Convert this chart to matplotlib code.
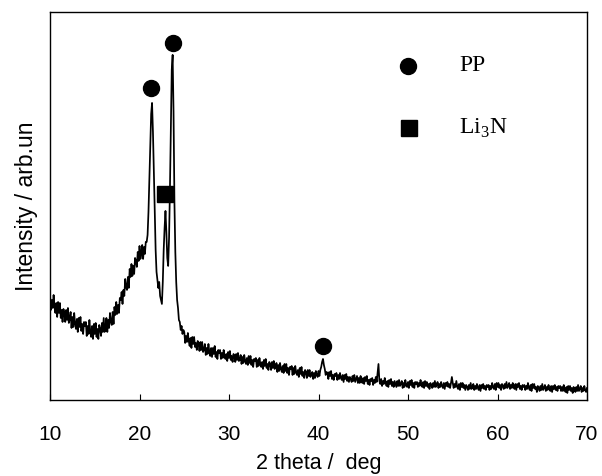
"""XRD pattern of the PP / Li3N sample, redrawn from the reference figure."""

import numpy as np
import matplotlib

matplotlib.use("Agg")
import matplotlib.pyplot as plt

plt.rcParams["font.family"] = ["Liberation Sans", "DejaVu Sans"]
plt.rcParams["mathtext.fontset"] = "custom"
plt.rcParams["mathtext.rm"] = "Liberation Serif"

# 2 theta from 10 to 70 deg in 0.1 deg steps, one row per degree
THETA_START, THETA_STOP, THETA_COUNT = 10.0, 70.0, 601

INTENSITY = [
    105, 90, 100, 92, 105, 93, 87, 97, 83, 98,      # 10
    87, 97, 82, 90, 78, 91, 87, 78, 90, 80,         # 11
    92, 77, 81, 88, 72, 83, 73, 87, 76, 71,         # 12
    81, 68, 82, 73, 83, 69, 76, 66, 78, 74,         # 13
    78, 64, 74, 66, 80, 68, 63, 74, 61, 76,         # 14
    66, 77, 63, 71, 61, 75, 71, 64, 77, 68,         # 15
    82, 68, 73, 82, 68, 80, 72, 87, 78, 75,         # 16
    88, 76, 93, 85, 98, 86, 95, 87, 102, 100,       # 17
    108, 96, 110, 104, 121, 113, 110, 123, 112, 131,  # 18
    123, 136, 124, 134, 126, 142, 139, 133, 148, 139,  # 19
    154, 141, 146, 155, 141, 153, 146, 158, 158, 165,  # 20
    188, 220, 252, 286, 297, 268, 228, 185, 150, 128,  # 21
    120, 112, 118, 104, 100, 96, 118, 150, 172, 189,   # 22
    168, 142, 134, 162, 212, 272, 330, 345, 288, 198,  # 23
    148, 118, 100, 92, 80, 78, 70, 74, 66, 70,      # 24
    68, 57, 64, 58, 67, 59, 54, 62, 52, 63,         # 25
    56, 63, 53, 57, 50, 59, 56, 49, 58, 50,         # 26
    58, 48, 50, 56, 45, 52, 46, 56, 48, 44,         # 27
    52, 43, 52, 46, 54, 43, 48, 41, 50, 47,         # 28
    50, 41, 47, 42, 50, 44, 41, 46, 39, 48,         # 29
    42, 49, 40, 44, 38, 46, 44, 38, 46, 40,         # 30
    47, 39, 40, 45, 36, 43, 37, 45, 39, 36,         # 31
    42, 35, 44, 37, 44, 35, 40, 33, 41, 39,         # 32
    42, 33, 40, 34, 42, 36, 33, 38, 31, 40,         # 33
    34, 41, 32, 36, 30, 38, 36, 30, 38, 32,         # 34
    39, 31, 33, 37, 28, 35, 29, 37, 31, 28,         # 35
    34, 27, 36, 29, 36, 27, 32, 25, 33, 31,         # 36
    34, 25, 32, 26, 34, 28, 25, 30, 23, 32,         # 37
    26, 33, 24, 28, 22, 30, 28, 22, 30, 24,         # 38
    30, 23, 26, 28, 21, 27, 22, 29, 25, 23,         # 39
    29, 24, 30, 33, 38, 41, 35, 31, 25, 28,         # 40
    27, 21, 28, 24, 29, 21, 25, 20, 26, 24,         # 41
    27, 20, 25, 21, 27, 22, 20, 25, 18, 25,         # 42
    21, 26, 19, 23, 18, 23, 21, 18, 24, 19,         # 43
    25, 18, 21, 24, 17, 22, 17, 24, 19, 17,         # 44
    22, 16, 23, 19, 24, 16, 20, 15, 21, 19,         # 45
    22, 15, 20, 17, 23, 18, 27, 36, 19, 16,         # 46
    21, 14, 19, 16, 22, 17, 14, 19, 13, 20,         # 47
    16, 21, 14, 18, 13, 19, 16, 13, 19, 14,         # 48
    20, 14, 16, 19, 12, 17, 13, 20, 15, 13,         # 49
    18, 12, 19, 15, 20, 13, 17, 12, 18, 16,         # 50
    18, 13, 17, 14, 20, 15, 13, 18, 12, 19,         # 51
    14, 18, 13, 16, 11, 17, 15, 12, 17, 13,         # 52
    19, 13, 15, 18, 12, 16, 13, 18, 14, 12,         # 53
    17, 11, 17, 14, 18, 13, 16, 12, 17, 23,         # 54
    17, 12, 16, 13, 19, 13, 11, 16, 10, 17,         # 55
    13, 17, 12, 15, 10, 15, 13, 10, 15, 11,         # 56
    17, 11, 13, 16, 10, 14, 11, 16, 12, 10,         # 57
    15, 9, 15, 12, 16, 11, 14, 10, 15, 13,          # 58
    15, 10, 14, 11, 17, 13, 11, 16, 10, 17,         # 59
    13, 17, 12, 15, 10, 16, 14, 11, 16, 12,         # 60
    18, 12, 14, 17, 11, 15, 12, 17, 13, 11,         # 61
    16, 10, 16, 13, 17, 11, 14, 10, 15, 13,         # 62
    15, 10, 14, 11, 17, 12, 10, 15, 9, 16,          # 63
    12, 16, 11, 13, 8, 14, 12, 9, 14, 10,           # 64
    16, 10, 12, 15, 9, 13, 10, 15, 11, 9,           # 65
    14, 8, 14, 11, 15, 10, 13, 9, 14, 12,           # 66
    14, 9, 13, 9, 15, 10, 8, 13, 7, 14,             # 67
    10, 14, 9, 12, 7, 13, 11, 8, 13, 9,             # 68
    15, 9, 11, 14, 8, 12, 9, 14, 10, 8,             # 69
    12,                                             # 70
]

# peak assignments (position, marker height)
PP_PEAKS = [21.3, 23.7, 40.5]
PP_HEIGHTS = [312, 357, 54]
LI3N_PEAKS = [22.9]
LI3N_HEIGHTS = [206]


def main():
    theta = np.linspace(THETA_START, THETA_STOP, THETA_COUNT)
    intensity = np.array(INTENSITY, dtype=float)

    fig = plt.figure(figsize=(6.02, 4.76), dpi=100)
    ax = fig.add_axes([0.0831, 0.1597, 0.892, 0.8153])

    ax.plot(theta, intensity, color="black", linewidth=1.25)
    ax.plot(PP_PEAKS, PP_HEIGHTS, "o", color="black", markersize=11.5, linestyle="none")
    ax.plot(LI3N_PEAKS, LI3N_HEIGHTS, "s", color="black", markersize=11, linestyle="none")

    # hand-placed key, as in the original
    ax.plot([0.667], [0.861], "o", color="black", markersize=11.5, transform=ax.transAxes)
    ax.plot([0.669], [0.701], "s", color="black", markersize=11, transform=ax.transAxes)
    ax.text(0.762, 0.861, "PP", transform=ax.transAxes, va="center", ha="left",
            fontsize=17, family="Liberation Serif")
    ax.text(0.762, 0.701, r"Li$_\mathrm{3}$N", transform=ax.transAxes, va="center",
            ha="left", fontsize=17, family="Liberation Serif")

    ax.set_xlim(10, 70)
    ax.set_ylim(0, 388)
    ax.set_xticks(range(10, 71, 10))
    ax.set_yticks([])
    ax.tick_params(axis="x", direction="in", length=4.5, width=0.8, labelsize=15, pad=18)
    ax.set_xlabel("2 theta /  deg", fontsize=15.5, labelpad=6.5)
    ax.set_ylabel("Intensity / arb.un", fontsize=16.5, labelpad=9)
    for spine in ax.spines.values():
        spine.set_linewidth(1.0)

    fig.savefig("out.png", dpi=100)
    plt.close(fig)


if __name__ == "__main__":
    main()
